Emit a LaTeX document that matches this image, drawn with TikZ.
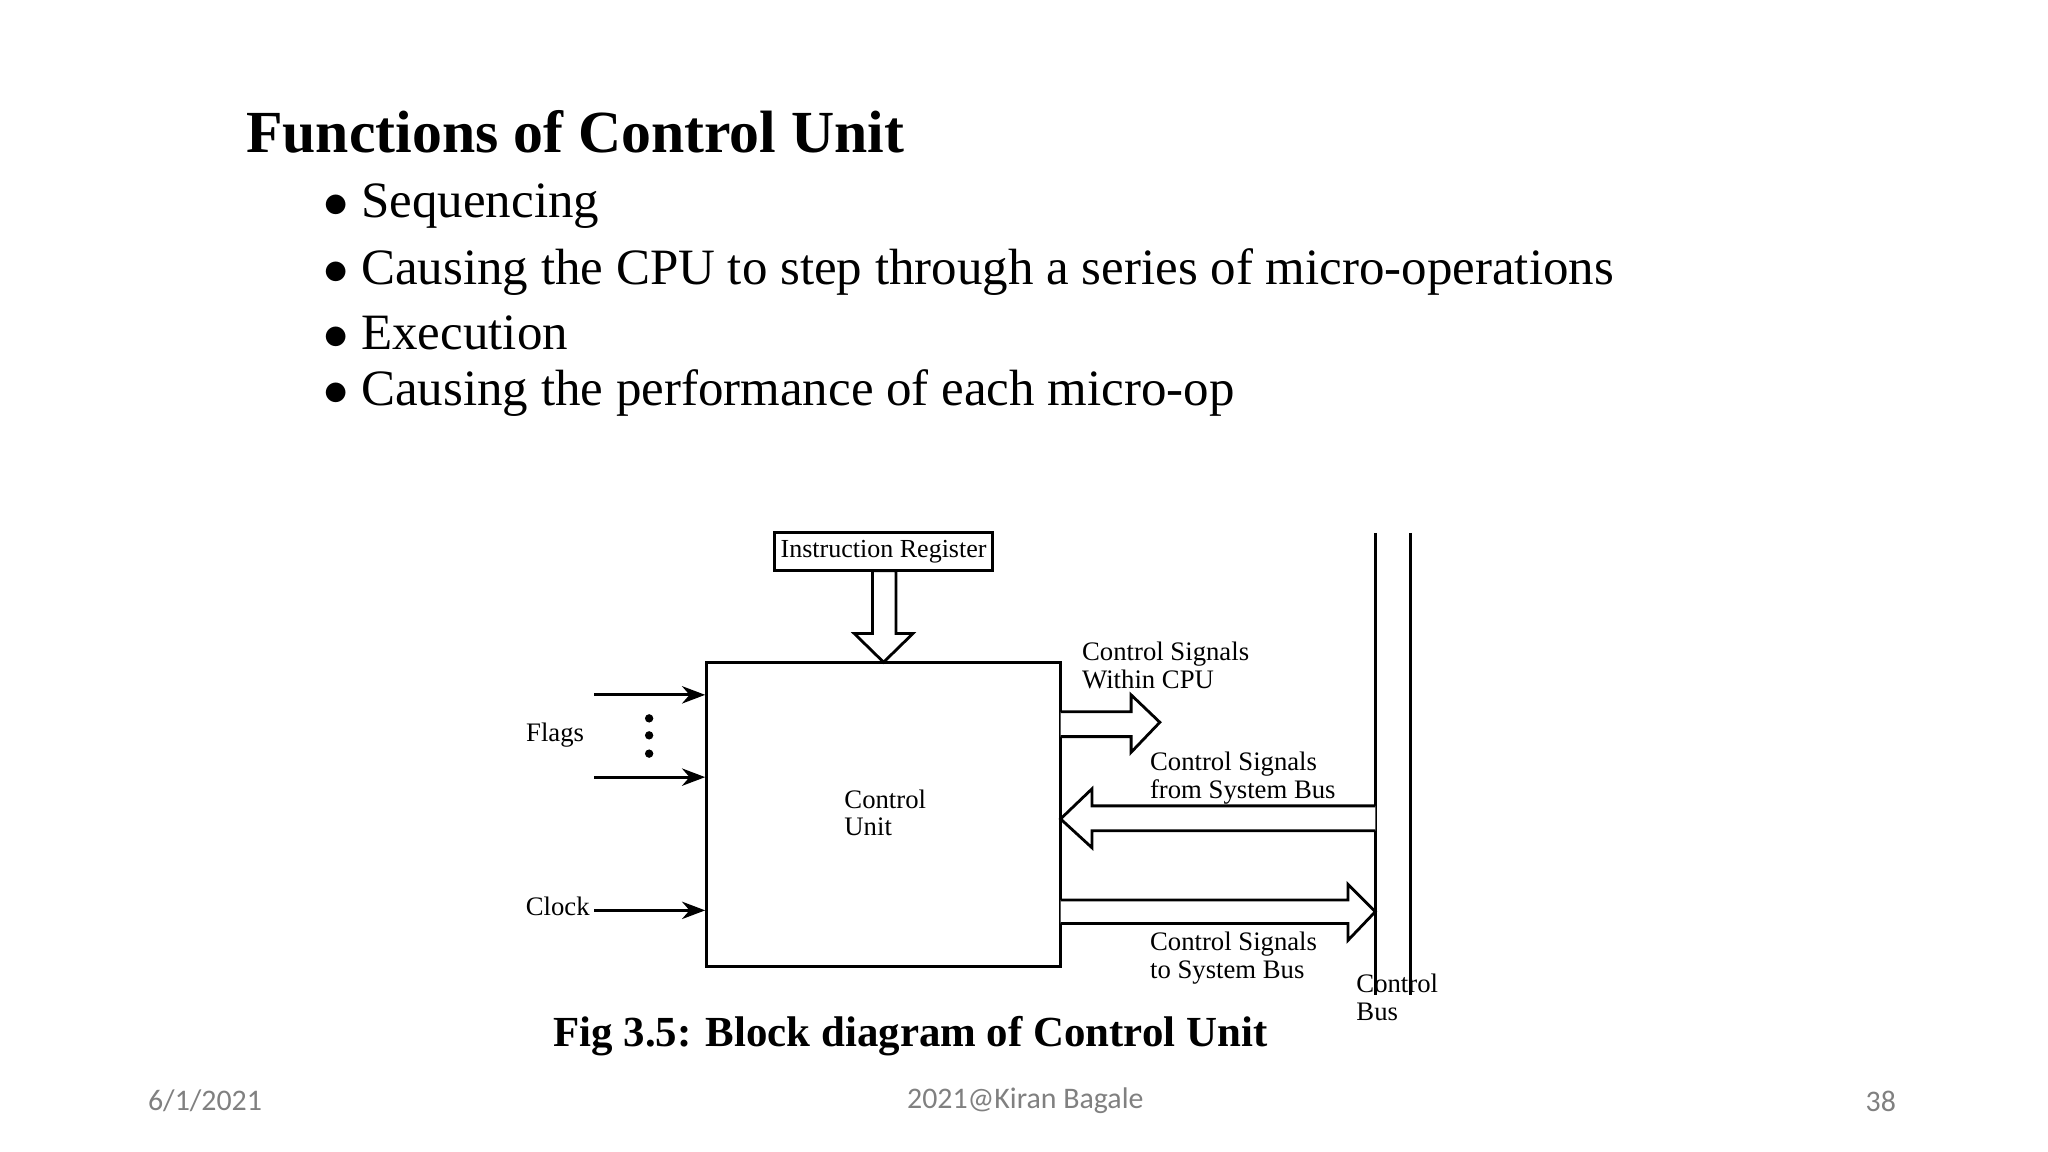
\documentclass[tikz,border=0pt]{standalone}
\usepackage{fontspec}
\setmainfont{Liberation Serif}
\newfontfamily\footfont{Carlito}
\usetikzlibrary{arrows.meta}
\begin{document}
\begin{tikzpicture}[x=0.013061cm,y=-0.013061cm]
\useasboundingbox (0,0) rectangle (1568,882);
\tikzset{lbl/.style={font=\fontsize{7.6}{7.9}\selectfont,align=left,inner sep=0pt},
         hollow/.style={draw,thick,fill=white},
         foot/.style={font=\footfont\fontsize{8.5}{10}\selectfont,text=gray}}
% heading and bullets
\node[anchor=west,inner sep=0pt,font=\fontsize{17}{20}\selectfont\bfseries] (T) at (188,101) {Functions of Control Unit};
\begin{scope}[every node/.style={anchor=west,inner sep=0pt,font=\fontsize{14.5}{17}\selectfont}]
    \node (B1) at (247,158) {$\bullet$ Sequencing};
    \node (B2) at (247,208) {$\bullet$ Causing the CPU to step through a series of micro-operations};
    \node (B3) at (247,255) {$\bullet$ Execution};
    \node (B4) at (247,301) {$\bullet$ Causing the performance of each micro-op};
\end{scope}
% blocks
\node[draw,thick,minimum width=2.181cm,minimum height=0.379cm,inner sep=0pt,font=\fontsize{7.4}{9}\selectfont] (IR) at (676.5,422.5) {Instruction Register};
\node[draw,thick,minimum width=3.540cm,minimum height=3.043cm,inner sep=0pt] (CU) at (676.5,623.5) {};
\node[lbl,anchor=north west] (CUL) at (646,604) {Control\\Unit};
% inputs
\begin{scope}[>={Stealth[black]},every edge/.style={draw,thick}]
    \coordinate (F1) at (455,532);
    \coordinate (F2) at (455,595);
    \coordinate (C1) at (455,697);
    \path [->] (F1) edge (F1 -| CU.west);
    \path [->] (F2) edge (F2 -| CU.west);
    \path [->] (C1) edge (C1 -| CU.west);
\end{scope}
\foreach \y in {550,563,577} \fill (497,\y) circle (3.2);
\node[lbl,anchor=center] (FL) at (425,563) {Flags};
\node[lbl,anchor=center] (CL) at (427,694) {Clock};
% control bus
\coordinate (BA1) at (1053,408); \coordinate (BA2) at (1053,762);
\coordinate (BB1) at (1080,408); \coordinate (BB2) at (1080,762);
\draw[thick] (BA1) -- (BA2) (BB1) -- (BB2);
\node[lbl,anchor=north west] (BL) at (1038,745) {Control\\Bus};
% hollow arrows
\draw[hollow] (668,437) -- (686,437) -- (686,485) -- (699,485) -- (676.5,507) -- (654,485) -- (668,485) -- cycle;
\draw[hollow] (812,545) -- (866,545) -- (866,532) -- (888,553) -- (866,576) -- (866,564) -- (812,564);
\draw[hollow] (1053,617) -- (836,617) -- (836,604) -- (812,627) -- (836,649) -- (836,636) -- (1053,636);
\draw[hollow] (812,689) -- (1032,689) -- (1032,677) -- (1053,698) -- (1032,720) -- (1032,707) -- (812,707);
\node[lbl,anchor=north west] (S1) at (828,491) {Control Signals\\Within CPU};
\node[lbl,anchor=north west] (S2) at (880,575) {Control Signals\\from System Bus};
\node[lbl,anchor=north west] (S3) at (880,713) {Control Signals\\to System Bus};
% caption and footer
\node[inner sep=0pt,font=\fontsize{12.2}{15}\selectfont\bfseries] (CAP) at (697,793) {Fig 3.5: Block diagram of Control Unit};
\node[foot] (D) at (157,843) {6/1/2021};
\node[foot] (A) at (785,843) {2021@Kiran Bagale};
\node[foot] (P) at (1440,843) {38};
\end{tikzpicture}
\end{document}
